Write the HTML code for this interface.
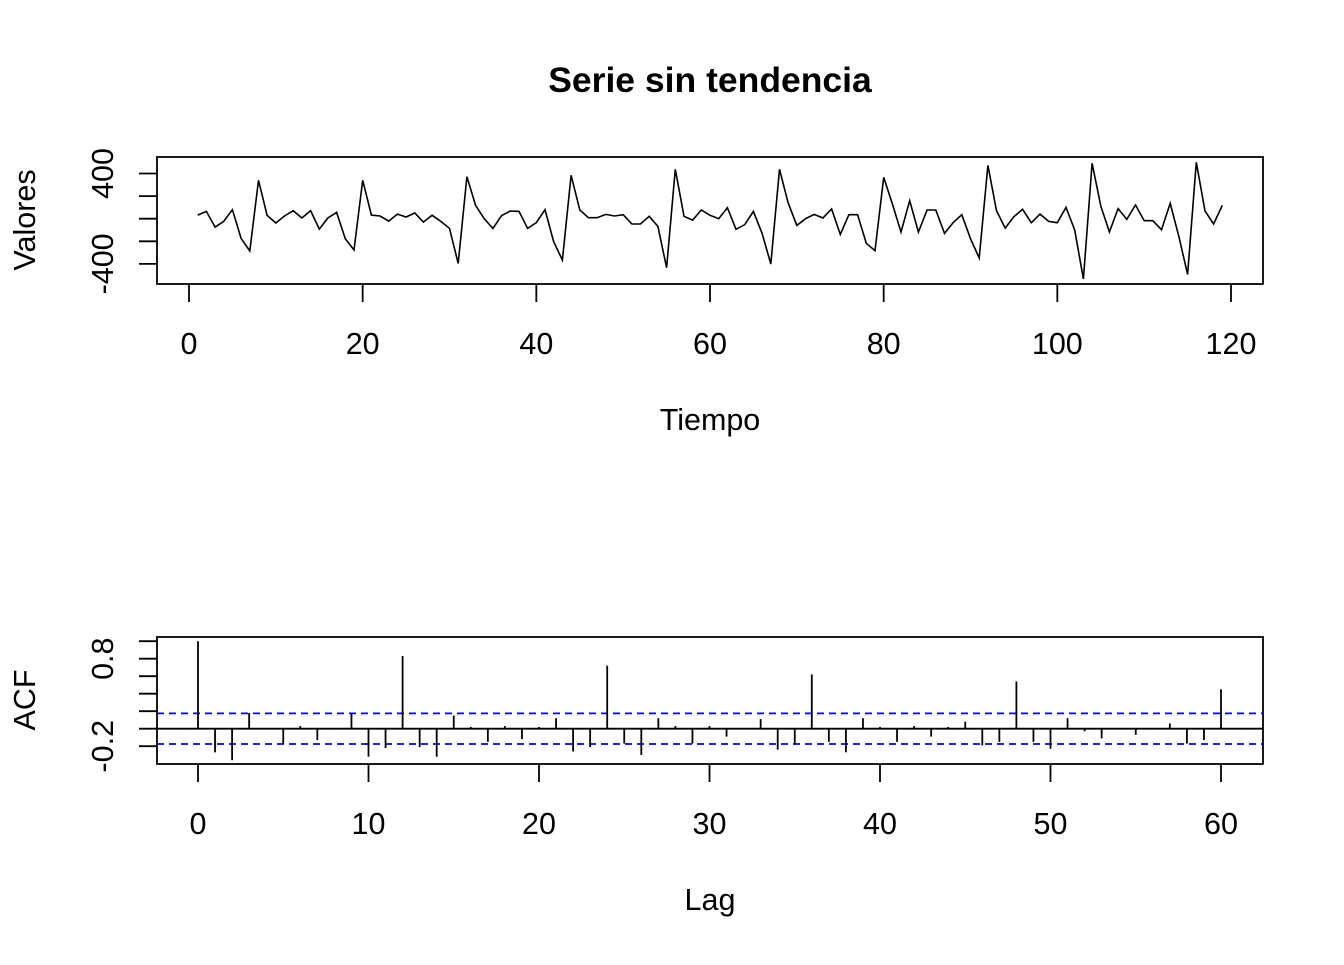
<!DOCTYPE html>
<html><head><meta charset="utf-8"><style>
body{margin:0;background:#fff}
svg text{font-family:"Liberation Sans",Arial,sans-serif;fill:#000}
</style></head><body>
<svg id="c" width="1344" height="960" xmlns="http://www.w3.org/2000/svg">
<text x="710" y="92" font-size="35.5" font-weight="bold" text-anchor="middle">Serie sin tendencia</text>
<g id="top"></g>
<g id="bot"></g>
</svg>
<script>
const seriesValues=[32,65,-74,-24,80,-174,-286,340,30,-38,24,71,6,71,-92,6,56,-177,-277,340,32,24,-21,41,15,50,-30,30,-24,-86,-396,372,118,0,-86,27,68,65,-86,-35,80,-204,-366,384,77,9,9,38,24,35,-47,-47,21,-68,-434,437,21,-12,77,30,0,97,-94,-53,65,-130,-401,437,142,-59,0,38,6,86,-139,35,35,-218,-283,366,130,-118,159,-118,77,77,-130,-35,35,-177,-348,472,71,-83,18,83,-35,41,-24,-35,100,-100,-534,490,112,-118,89,-6,121,-18,-18,-97,136,-159,-493,499,68,-47,118];
const timeTicks=[0,20,40,60,80,100,120];
const valueTicks=[-400,-200,0,200,400];
const valueTickLabels=["-400","","","","400"];
const acfValues=[1.0,-0.27,-0.36,0.18,0.0,-0.17,0.03,-0.13,-0.01,0.17,-0.32,-0.22,0.83,-0.21,-0.32,0.15,0.02,-0.15,0.03,-0.12,0.02,0.12,-0.26,-0.21,0.72,-0.17,-0.30,0.12,0.03,-0.17,0.03,-0.09,0.0,0.11,-0.24,-0.18,0.62,-0.15,-0.27,0.12,0.02,-0.15,0.03,-0.09,0.02,0.08,-0.19,-0.15,0.54,-0.15,-0.23,0.12,-0.03,-0.11,0.0,-0.07,0.0,0.06,-0.17,-0.13,0.45];
const lagTicks=[0,10,20,30,40,50,60];
const acfTicks=[-0.2,0,0.2,0.4,0.6,0.8,1.0];
const acfTickLabels=["-0.2","","","","","0.8",""];
const confBound=[0.175];
const NS="http://www.w3.org/2000/svg";
function mk(p,t,a,txt){const e=document.createElementNS(NS,t);for(const k in a)e.setAttribute(k,a[k]);if(txt!==undefined)e.textContent=txt;p.appendChild(e);return e;}
const FS=30.5;
// top panel
const T=document.getElementById('top');
const tx=v=>189+v*(1231-189)/120, ty=v=>218.7-v*45.2/400;
let r=mk(T,'rect',{x:157,y:157,width:1106,height:127,fill:'none',stroke:'#000','stroke-width':1.8});


let d=seriesValues.map((v,i)=>(i?'L':'M')+tx(i+1).toFixed(1)+','+ty(v).toFixed(1)).join('');
let p=mk(T,'path',{d:d,fill:'none',stroke:'#000','stroke-width':1.6});


timeTicks.forEach(t=>{
 let l=mk(T,'line',{x1:tx(t),x2:tx(t),y1:284,y2:302,stroke:'#000','stroke-width':1.8});
 
 
 let s=mk(T,'text',{x:tx(t),y:354,'font-size':FS,'text-anchor':'middle'},String(t));
 
 
});
valueTicks.forEach((v,i)=>{
 let l=mk(T,'line',{x1:139,x2:157,y1:ty(v),y2:ty(v),stroke:'#000','stroke-width':1.8});
 
 
 if(valueTickLabels[i]){let s=mk(T,'text',{x:0,y:0,'font-size':FS,'text-anchor':'middle',transform:`translate(113,${ty(v)}) rotate(-90)`},valueTickLabels[i]);
 
 }
});
let yl=mk(T,'text',{'font-size':FS,'text-anchor':'middle',transform:'translate(35,220) rotate(-90)'},'Valores');


let xl=mk(T,'text',{x:710,y:430,'font-size':FS,'text-anchor':'middle'},'Tiempo');


// bottom panel
const B=document.getElementById('bot');
const bx=v=>198+v*(1221-198)/60, by=v=>728.7-v*87.5;
r=mk(B,'rect',{x:157,y:637,width:1106,height:127,fill:'none',stroke:'#000','stroke-width':1.8});


let z=mk(B,'line',{x1:157,x2:1263,y1:by(0),y2:by(0),stroke:'#000','stroke-width':1.8});


[confBound[0],-confBound[0]].forEach(c=>{
 let l=mk(B,'line',{x1:157,x2:1263,y1:by(c),y2:by(c),stroke:'#0000ff','stroke-width':1.8,'stroke-dasharray':'7,5'});
 
 
});
acfValues.forEach((v,i)=>{
 let l=mk(B,'line',{x1:bx(i),x2:bx(i),y1:by(0),y2:by(v),stroke:'#000','stroke-width':1.8});
 
 
});
lagTicks.forEach(t=>{
 let l=mk(B,'line',{x1:bx(t),x2:bx(t),y1:764,y2:782,stroke:'#000','stroke-width':1.8});
 
 
 let s=mk(B,'text',{x:bx(t),y:834,'font-size':FS,'text-anchor':'middle'},String(t));
 
 
});
acfTicks.forEach((v,i)=>{
 let l=mk(B,'line',{x1:139,x2:157,y1:by(v),y2:by(v),stroke:'#000','stroke-width':1.8});
 
 
 if(acfTickLabels[i]){let s=mk(B,'text',{'font-size':FS,'text-anchor':'middle',transform:`translate(113,${by(v)}) rotate(-90)`},acfTickLabels[i]);
 
 }
});
yl=mk(B,'text',{'font-size':FS,'text-anchor':'middle',transform:'translate(35,700) rotate(-90)'},'ACF');


xl=mk(B,'text',{x:710,y:910,'font-size':FS,'text-anchor':'middle'},'Lag');


</script>
</body></html>
